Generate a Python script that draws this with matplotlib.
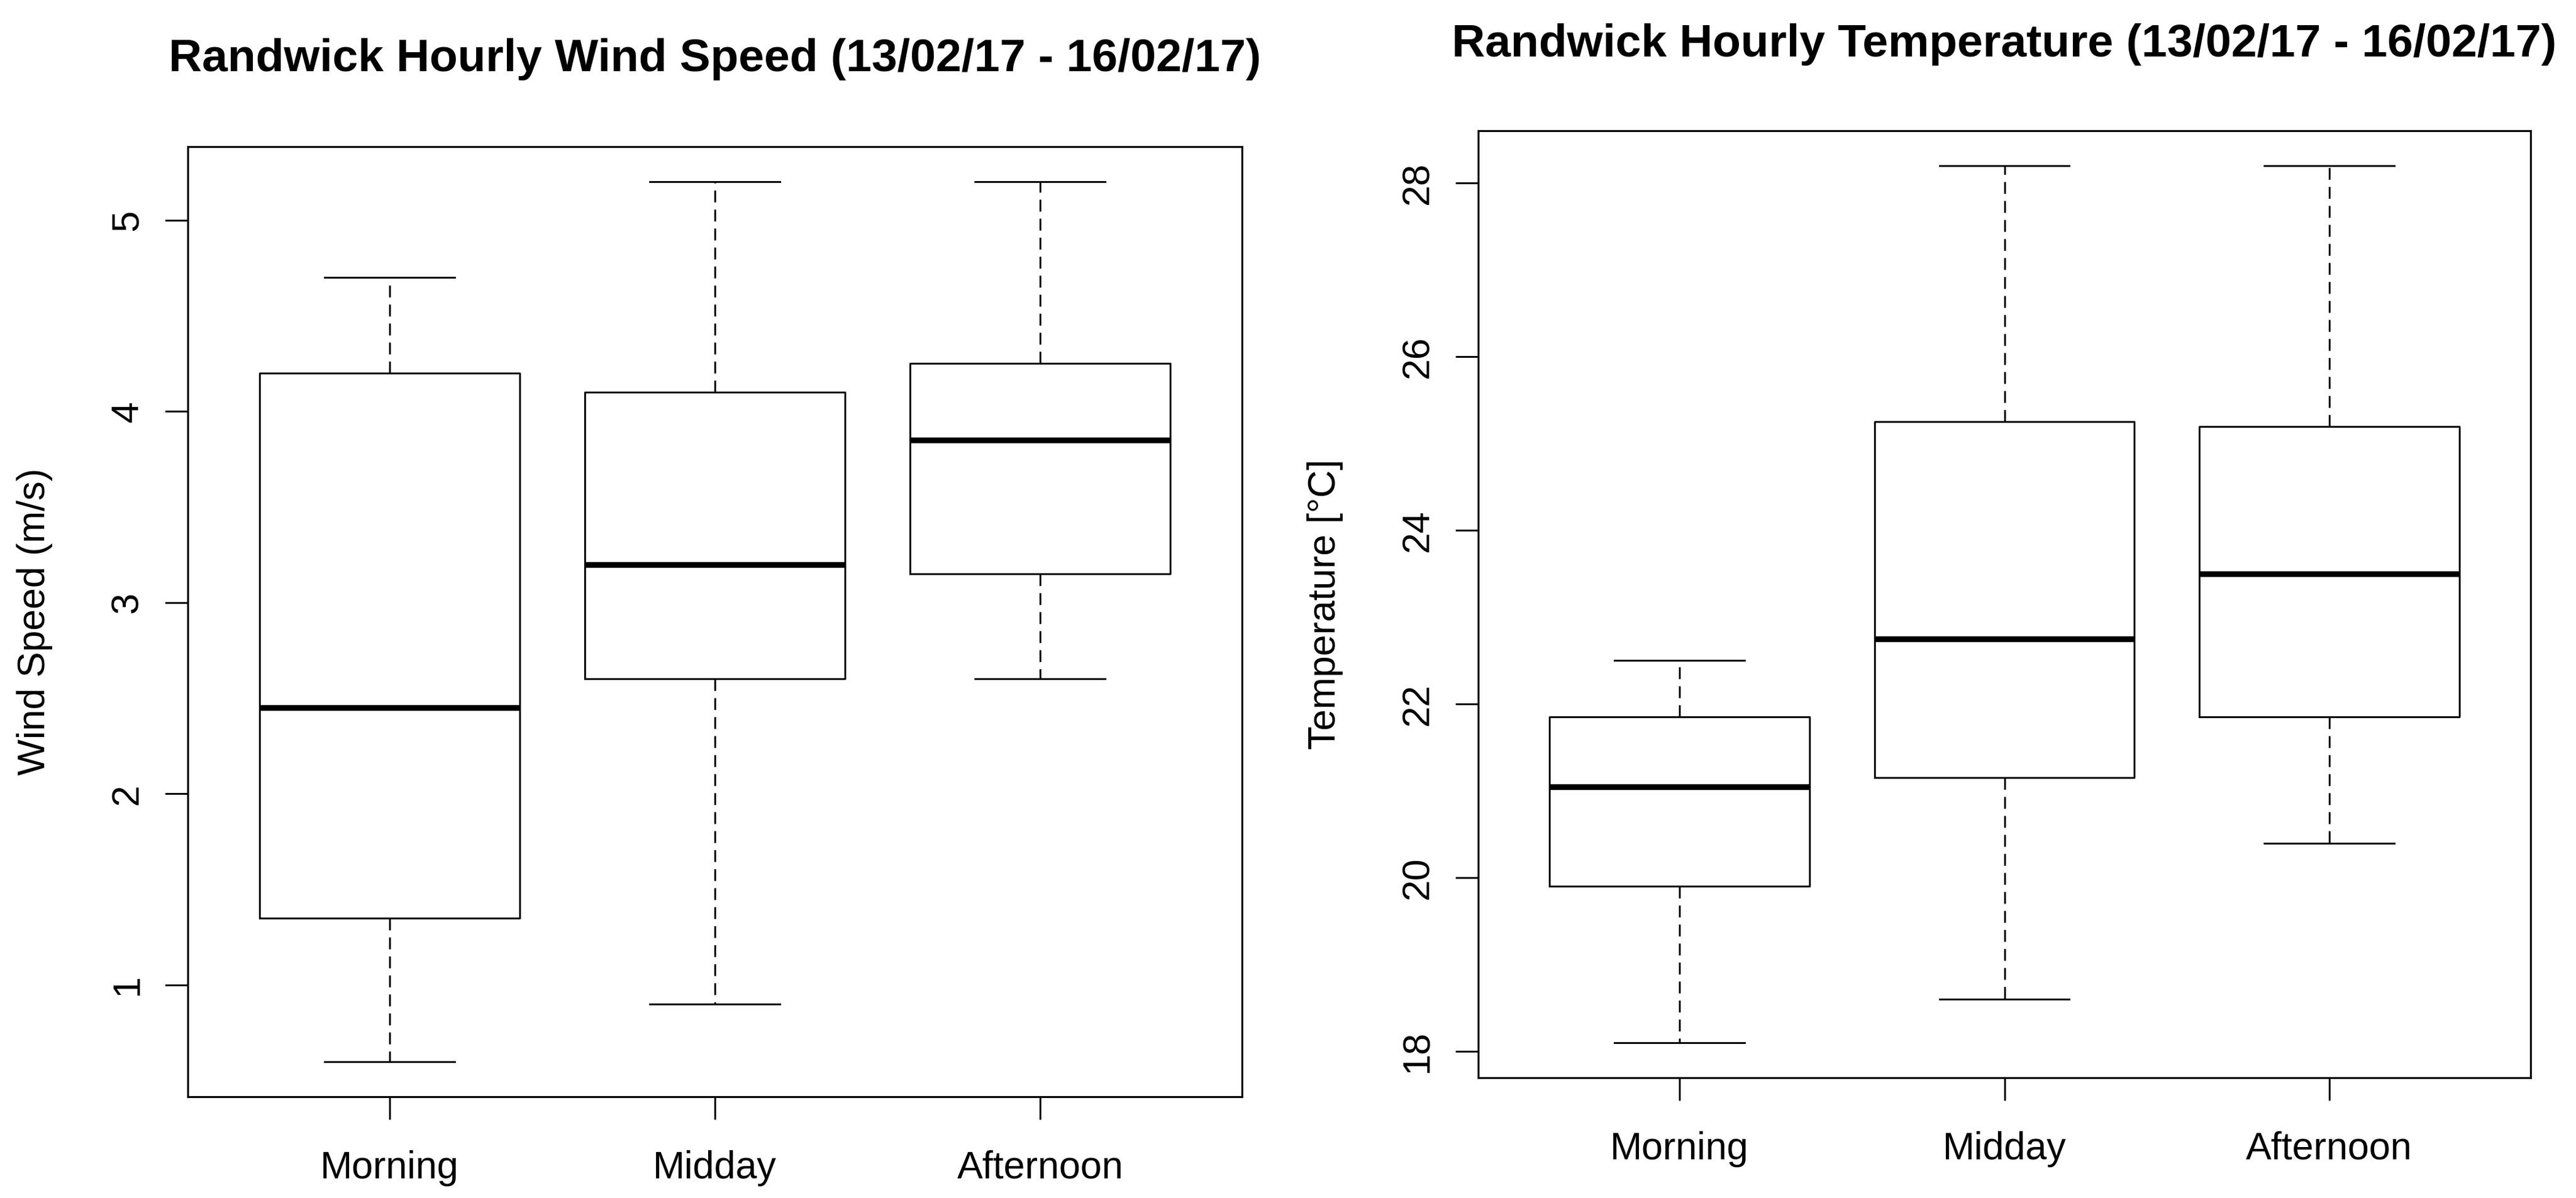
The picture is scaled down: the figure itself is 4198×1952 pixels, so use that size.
import matplotlib
matplotlib.use("Agg")
import matplotlib.pyplot as plt

# Hourly box statistics (R boxplot, no outliers)
periods = ["Morning", "Midday", "Afternoon"]

wind_low = [0.6, 0.9, 2.6]
wind_q1 = [1.35, 2.6, 3.15]
wind_med = [2.45, 3.2, 3.85]
wind_q3 = [4.2, 4.1, 4.25]
wind_high = [4.7, 5.2, 5.2]

temp_low = [18.1, 18.6, 20.4]
temp_q1 = [19.9, 21.15, 21.85]
temp_med = [21.05, 22.75, 23.5]
temp_q3 = [21.85, 25.25, 25.2]
temp_high = [22.5, 28.2, 28.2]

wind_ticks = [1, 2, 3, 4, 5]
temp_ticks = [18, 20, 22, 24, 26, 28]

plt.rcParams["font.family"] = ["Liberation Sans", "DejaVu Sans"]
plt.rcParams["lines.scale_dashes"] = False

W, H, DPI = 4198, 1952, 100
fig = plt.figure(figsize=(W / DPI, H / DPI), dpi=DPI)


def box_panel(rect, low, q1, med, q3, high, ticks, ylabel, title, title_base):
    ax = fig.add_axes(rect)
    stats = []
    for i in range(len(periods)):
        stats.append(dict(label=periods[i], whislo=low[i], q1=q1[i], med=med[i],
                          q3=q3[i], whishi=high[i], fliers=[]))
    ax.bxp(stats, positions=[1, 2, 3], widths=0.8, capwidths=0.4, showfliers=False,
           boxprops=dict(color="black", linewidth=2.1),
           medianprops=dict(color="black", linewidth=6.8, solid_capstyle="butt"),
           whiskerprops=dict(color="black", linewidth=2.1, linestyle=(0, (13.9, 8.4))),
           capprops=dict(color="black", linewidth=2.1))
    lo, hi = min(low), max(high)
    span = hi - lo
    ax.set_ylim(lo - 0.04 * span, hi + 0.04 * span)
    ax.set_xlim(0.38, 3.62)
    ax.set_xticks([1, 2, 3])
    ax.set_xticklabels(periods)
    ax.set_yticks(ticks)
    ax.set_yticklabels([str(t) for t in ticks])
    for sp in ax.spines.values():
        sp.set_linewidth(2.3)
    ax.tick_params(axis="x", length=26.5, width=2.1, pad=36, labelsize=45)
    ax.tick_params(axis="y", length=26.5, width=2.1, pad=23, labelsize=45)
    for lbl in ax.get_yticklabels():
        lbl.set_rotation(90)
        lbl.set_va("center")
        lbl.set_ha("right")
    ax.set_ylabel(ylabel, fontsize=45)
    ax.yaxis.set_label_coords(-0.128, 0.5)
    x0, y0, w, h = rect
    fig.text(x0 + w / 2, 1 - title_base / H, title, ha="center", va="baseline",
             fontsize=54, fontweight="bold")
    return ax


box_panel([306 / W, 1 - 1787 / H, (2024 - 306) / W, (1787 - 239) / H],
          wind_low, wind_q1, wind_med, wind_q3, wind_high, wind_ticks,
          "Wind Speed (m/s)",
          "Randwick Hourly Wind Speed (13/02/17 - 16/02/17)", 116)

box_panel([2409 / W, 1 - 1756 / H, (4124 - 2409) / W, (1756 - 213) / H],
          temp_low, temp_q1, temp_med, temp_q3, temp_high, temp_ticks,
          "Temperature [\u00b0C]",
          "Randwick Hourly Temperature (13/02/17 - 16/02/17)", 92)

fig.savefig("out.png", dpi=DPI)
